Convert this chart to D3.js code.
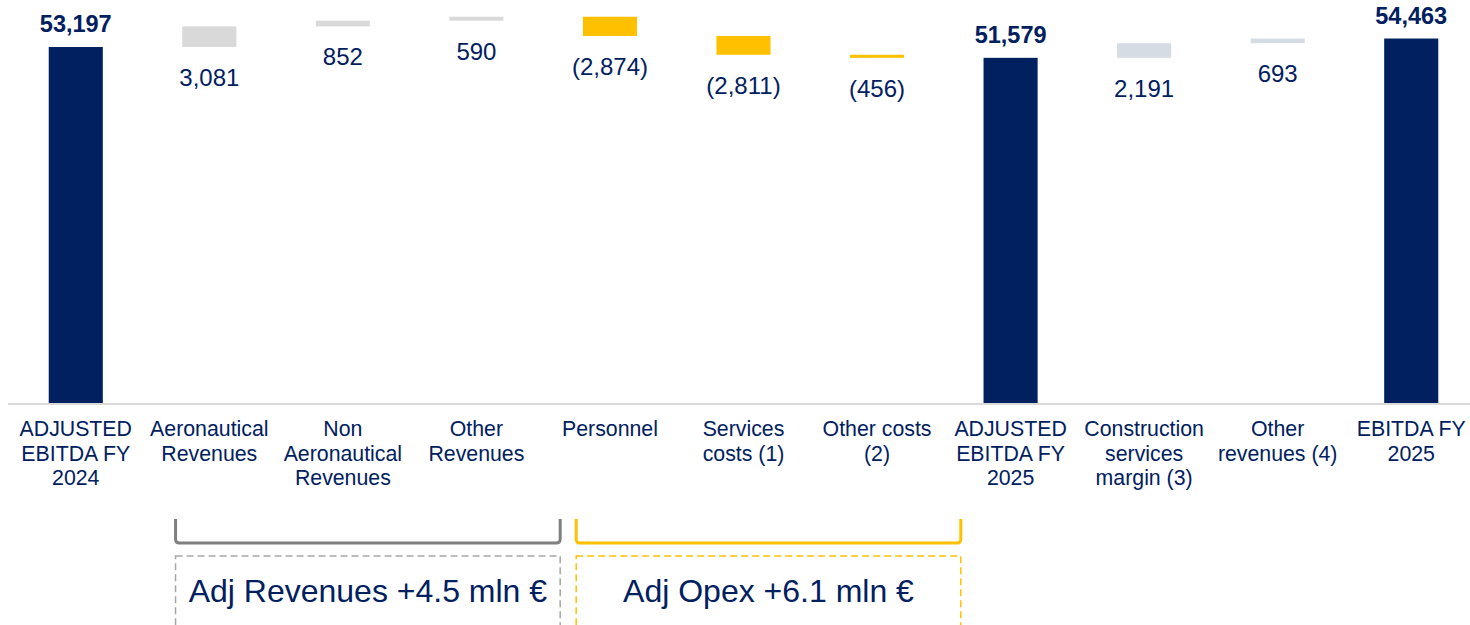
<!DOCTYPE html>
<html lang="en">
<head>
<meta charset="utf-8">
<title>EBITDA bridge</title>
<script src="https://cdn.jsdelivr.net/npm/d3@7"></script>
<style>
	body { margin: 0; background: #fff; }
	svg { display: block; font-family: "Liberation Sans", Arial, sans-serif; }
</style>
</head>
<body>
<script>
// chart data
var categories = [
	["ADJUSTED", "EBITDA FY", "2024"],
	["Aeronautical", "Revenues"],
	["Non", "Aeronautical", "Revenues"],
	["Other", "Revenues"],
	["Personnel"],
	["Services", "costs (1)"],
	["Other costs", "(2)"],
	["ADJUSTED", "EBITDA FY", "2025"],
	["Construction", "services", "margin (3)"],
	["Other", "revenues (4)"],
	["EBITDA FY", "2025"]
];
var values = [53197, 3081, 852, 590, -2874, -2811, -456, 51579, 2191, 693, 54463];
var kinds = ["total", "rev", "rev", "rev", "cost", "cost", "cost", "total", "other", "other", "total"];
var groupLabels = ["Adj Revenues +4.5 mln €", "Adj Opex +6.1 mln €"];
var groupSpans = [[1, 3], [4, 6]];
var groupKinds = ["rev", "cost"];

var w = 1470, h = 625;
var navy = "#002060";
var fills = { total: navy, rev: "#d9d9d9", cost: "#ffc000", other: "#d6dce4" };
var bracketColors = { rev: "#7f7f7f", cost: "#ffc000" };
var boxColors = { rev: "#a6a6a6", cost: "#ffc000" };

// waterfall steps
var run = 0;
var steps = values.map(function(v, i) {
	var s;
	if (kinds[i] === "total") { s = { start: 0, end: v }; run = v; }
	else { s = { start: run, end: run + v }; run += v; }
	s.v = v; s.i = i; s.kind = kinds[i];
	return s;
});

var svg = d3.select("body").append("svg")
	.attr("width", w)
	.attr("height", h);

var x = d3.scaleBand()
	.domain(d3.range(categories.length))
	.range([9, 1478])
	.paddingInner(0.595)
	.paddingOuter(0.2975);

var y = d3.scaleLinear()
	.domain([0, 53197])
	.range([403, 47]);

var fmt = d3.format(",");

// bars
svg.selectAll("rect.bar")
	.data(steps)
	.enter()
	.append("rect")
	.attr("class", "bar")
	.attr("x", function(d) { return x(d.i); })
	.attr("width", x.bandwidth())
	.attr("y", function(d) { return y(Math.max(d.start, d.end)); })
	.attr("height", function(d) { return Math.abs(y(d.start) - y(d.end)); })
	.attr("fill", function(d) { return fills[d.kind]; });

// baseline
svg.append("line")
	.attr("x1", 8).attr("x2", w)
	.attr("y1", y(0) + 1).attr("y2", y(0) + 1)
	.attr("stroke", "#d9d9d9")
	.attr("stroke-width", 2);

// value labels
svg.selectAll("text.val")
	.data(steps)
	.enter()
	.append("text")
	.attr("class", "val")
	.attr("x", function(d) { return x(d.i) + x.bandwidth() / 2; })
	.attr("y", function(d) {
		if (d.kind === "total") return y(d.end) - 15;
		return y(Math.min(d.start, d.end)) + 39;
	})
	.attr("text-anchor", "middle")
	.attr("font-size", function(d) { return d.kind === "total" ? "23.5px" : "24px"; })
	.attr("font-weight", function(d) { return d.kind === "total" ? "bold" : "normal"; })
	.attr("fill", navy)
	.text(function(d) {
		return d.v < 0 ? "(" + fmt(-d.v) + ")" : fmt(d.v);
	});

// category labels
var cat = svg.selectAll("text.cat")
	.data(categories)
	.enter()
	.append("text")
	.attr("class", "cat")
	.attr("text-anchor", "middle")
	.attr("font-size", "21.3px")
	.attr("fill", navy);
cat.selectAll("tspan")
	.data(function(d, i) { return d.map(function(t) { return { t: t, i: i }; }); })
	.enter()
	.append("tspan")
	.attr("x", function(d) { return x(d.i) + x.bandwidth() / 2; })
	.attr("y", function(d, j) { return 436 + j * 24.5; })
	.text(function(d) { return d.t; });

// brackets and dashed boxes
var step = x.step();
groupSpans.forEach(function(span, g) {
	var left = x(span[0]) - (step - x.bandwidth()) / 2 + 33;
	var right = x(span[1]) + x.bandwidth() + (step - x.bandwidth()) / 2 + 17;
	var top = 519, bot = 543, r = 4;
	var k = groupKinds[g];
	svg.append("path")
		.attr("d", "M" + left + "," + top + "V" + (bot - r) + "Q" + left + "," + bot + " " + (left + r) + "," + bot +
			"H" + (right - r) + "Q" + right + "," + bot + " " + right + "," + (bot - r) + "V" + top)
		.attr("fill", "none")
		.attr("stroke", bracketColors[k])
		.attr("stroke-width", 3);
	svg.append("rect")
		.attr("x", left).attr("y", 556)
		.attr("width", right - left).attr("height", 90)
		.attr("fill", "none")
		.attr("stroke", boxColors[k])
		.attr("stroke-width", 1.5)
		.attr("stroke-dasharray", "7,4");
	svg.append("text")
		.attr("x", (left + right) / 2)
		.attr("y", 602)
		.attr("text-anchor", "middle")
		.attr("font-size", "32px")
		.attr("fill", navy)
		.text(groupLabels[g]);
});
</script>
</body>
</html>
